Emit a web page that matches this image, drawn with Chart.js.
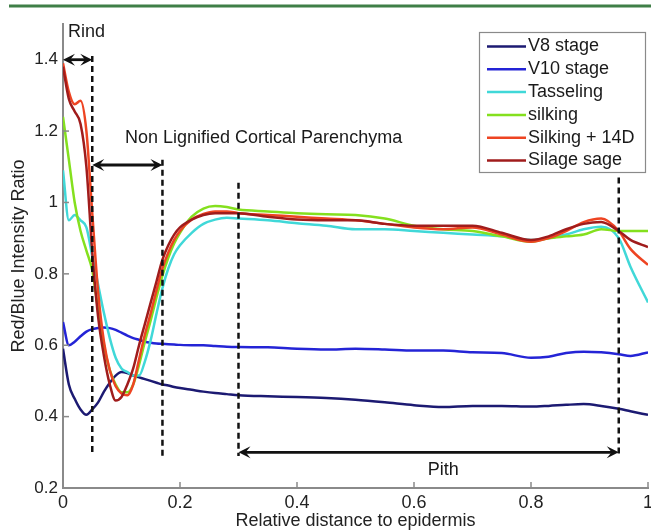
<!DOCTYPE html>
<html><head><meta charset="utf-8">
<script src="https://cdn.jsdelivr.net/npm/chart.js@4/dist/chart.umd.min.js"></script>
<style>html,body{margin:0;padding:0;background:#fff;overflow:hidden}canvas{display:block}</style>
</head><body>
<canvas id="c" width="651" height="532"></canvas>
<script>
// ---- data ----
const xPositions = [0,0.01,0.02,0.03,0.04,0.05,0.06,0.07,0.08,0.09,0.10,0.11,0.12,0.13,0.14,0.15,0.16,0.17,0.18,0.19,0.20,0.22,0.24,0.26,0.28,0.30,0.35,0.40,0.45,0.50,0.55,0.60,0.65,0.70,0.75,0.80,0.83,0.86,0.89,0.92,0.95,0.97,1.00];
const v8Stage = [0.59,0.49,0.45,0.42,0.405,0.42,0.44,0.47,0.495,0.515,0.525,0.522,0.515,0.51,0.505,0.50,0.495,0.49,0.487,0.483,0.48,0.475,0.47,0.466,0.463,0.46,0.457,0.455,0.452,0.447,0.44,0.432,0.427,0.43,0.43,0.428,0.43,0.433,0.435,0.43,0.422,0.415,0.405];
const v10Stage = [0.665,0.60,0.61,0.625,0.638,0.645,0.648,0.65,0.648,0.643,0.635,0.627,0.62,0.615,0.61,0.607,0.605,0.604,0.603,0.602,0.601,0.60,0.60,0.598,0.596,0.595,0.594,0.59,0.588,0.59,0.588,0.585,0.585,0.58,0.578,0.565,0.568,0.578,0.582,0.58,0.575,0.57,0.58];
const tasseling = [1.09,0.95,0.965,0.95,0.93,0.85,0.77,0.69,0.62,0.565,0.535,0.525,0.515,0.515,0.555,0.615,0.69,0.76,0.815,0.855,0.88,0.915,0.94,0.952,0.957,0.955,0.95,0.942,0.935,0.925,0.925,0.92,0.915,0.91,0.905,0.895,0.90,0.91,0.925,0.932,0.90,0.82,0.72];
const silking = [1.24,1.12,1.0,0.92,0.865,0.81,0.70,0.60,0.53,0.49,0.468,0.468,0.49,0.545,0.61,0.67,0.735,0.795,0.845,0.885,0.915,0.96,0.983,0.99,0.987,0.98,0.975,0.97,0.967,0.965,0.955,0.935,0.925,0.92,0.905,0.89,0.90,0.905,0.91,0.925,0.92,0.92,0.92];
const silking14D = [1.39,1.31,1.275,1.285,1.20,0.97,0.75,0.61,0.53,0.485,0.465,0.46,0.49,0.56,0.63,0.69,0.755,0.815,0.86,0.895,0.92,0.952,0.968,0.975,0.975,0.97,0.965,0.96,0.955,0.95,0.94,0.93,0.925,0.93,0.91,0.89,0.90,0.92,0.945,0.955,0.92,0.87,0.825];
const silageStage = [1.38,1.29,1.255,1.22,1.10,0.86,0.68,0.57,0.49,0.445,0.455,0.49,0.535,0.60,0.66,0.72,0.78,0.84,0.88,0.91,0.93,0.952,0.965,0.97,0.97,0.97,0.96,0.952,0.95,0.95,0.94,0.935,0.935,0.935,0.915,0.895,0.905,0.925,0.94,0.945,0.92,0.895,0.875];
const seriesLabels = ['V8 stage','V10 stage','Tasseling','silking','Silking + 14D','Silage sage'];
const seriesValues = [v8Stage, v10Stage, tasseling, silking, silking14D, silageStage];
const seriesColors = ['#1c1a72','#2424d6','#40d8d8','#84e01e','#ee4422','#a01c1c'];
const xTickValues = [0,0.2,0.4,0.6,0.8,1];
const yTickValues = [0.2,0.4,0.6,0.8,1,1.2,1.4];
// region annotations, in data units
const boundaryX = [0.05, 0.17, 0.30, 0.95];
const boundaryTop = [1.41, 1.12, 1.055, 1.07];
const boundaryBottom = 0.29;
const arrowFrom = [0, 0.05, 0.30];
const arrowTo = [0.05, 0.17, 0.95];
const arrowY = [1.40, 1.105, 0.30];
const regionText = ['Rind', 'Non Lignified Cortical Parenchyma', 'Pith'];
const regionTextX = [0.0085, 0.106, 0.65];
const regionTextY = [1.477, 1.18, 0.25];
const regionTextAlign = ['left', 'left', 'center'];

const FONT = '"Liberation Sans", Arial, Helvetica, sans-serif';

function arrowHead(ctx, tipX, tipY, dir) {
  const L = 12, W = 6;
  ctx.beginPath();
  ctx.moveTo(tipX, tipY);
  ctx.lineTo(tipX - dir * L, tipY - W);
  ctx.lineTo(tipX - dir * L * 0.6, tipY);
  ctx.lineTo(tipX - dir * L, tipY + W);
  ctx.closePath();
  ctx.fill();
}

const annotate = {
  id: 'annotate',
  beforeDraw(chart) {
    const c = chart.ctx; c.save(); c.fillStyle = '#fff'; c.fillRect(0, 0, chart.width, chart.height); c.restore();
  },
  afterDatasetsDraw(chart) {
    const { ctx, scales: { x, y }, chartArea: a } = chart;
    ctx.save();
    // inward tick marks
    ctx.strokeStyle = '#8a8a8a'; ctx.lineWidth = 1.5;
    x.ticks.forEach(t => { const px = x.getPixelForValue(t.value); ctx.beginPath(); ctx.moveTo(px, a.bottom); ctx.lineTo(px, a.bottom - 6); ctx.stroke(); });
    y.ticks.forEach(t => { const py = y.getPixelForValue(t.value); ctx.beginPath(); ctx.moveTo(a.left, py); ctx.lineTo(a.left + 6, py); ctx.stroke(); });
    // dashed boundaries
    ctx.strokeStyle = '#111'; ctx.lineWidth = 2.5; ctx.setLineDash([6, 4]);
    boundaryX.forEach((bx, i) => {
      const px = x.getPixelForValue(bx);
      ctx.beginPath(); ctx.moveTo(px, y.getPixelForValue(boundaryTop[i])); ctx.lineTo(px, y.getPixelForValue(boundaryBottom)); ctx.stroke();
    });
    ctx.setLineDash([]);
    // double arrows
    ctx.fillStyle = '#111'; ctx.lineWidth = 2.8;
    arrowFrom.forEach((fx, i) => {
      const x1 = x.getPixelForValue(fx), x2 = x.getPixelForValue(arrowTo[i]), py = y.getPixelForValue(arrowY[i]);
      ctx.beginPath(); ctx.moveTo(x1 + 4, py); ctx.lineTo(x2 - 4, py); ctx.stroke();
      arrowHead(ctx, x1, py, -1); arrowHead(ctx, x2, py, 1);
    });
    // region labels
    ctx.font = '18px ' + FONT; ctx.textBaseline = 'middle'; ctx.fillStyle = '#1a1a1a';
    regionText.forEach((t, i) => {
      ctx.textAlign = regionTextAlign[i];
      ctx.fillText(t, x.getPixelForValue(regionTextX[i]), y.getPixelForValue(regionTextY[i]));
    });
    // legend box
    const bx = 479, by = 32, bw = 166, bh = 140, rowH = 22.8;
    ctx.fillStyle = '#fff'; ctx.fillRect(bx, by, bw, bh);
    ctx.strokeStyle = '#8a8a8a'; ctx.lineWidth = 1.2; ctx.strokeRect(bx + 0.5, by + 0.5, bw, bh);
    ctx.textAlign = 'left'; ctx.font = '18px ' + FONT;
    chart.data.datasets.forEach((ds, i) => {
      const ry = by + 14.5 + rowH * i;
      ctx.strokeStyle = ds.borderColor; ctx.lineWidth = 2.5;
      ctx.beginPath(); ctx.moveTo(bx + 8, ry); ctx.lineTo(bx + 47, ry); ctx.stroke();
      ctx.fillStyle = '#1a1a1a'; ctx.fillText(ds.label, bx + 49, ry);
    });
    // page rule at the top
    ctx.strokeStyle = '#3f7f47'; ctx.lineWidth = 3;
    ctx.beginPath(); ctx.moveTo(9, 6); ctx.lineTo(651, 6); ctx.stroke();
    ctx.restore();
  }
};

const datasets = seriesValues.map((vals, i) => ({
  label: seriesLabels[i],
  data: xPositions.map((xv, j) => ({ x: xv, y: vals[j] })),
  borderColor: seriesColors[i],
  backgroundColor: seriesColors[i],
  borderWidth: 2.5,
  pointRadius: 0,
  fill: false,
  cubicInterpolationMode: 'monotone',
  order: seriesValues.length - i
}));

new Chart(document.getElementById('c'), {
  type: 'line',
  data: { datasets },
  options: {
    responsive: false, animation: false, devicePixelRatio: 1,
    layout: { padding: { top: 24, right: 3, left: 0, bottom: 0 } },
    plugins: { legend: { display: false }, tooltip: { enabled: false } },
    scales: {
      x: {
        type: 'linear', min: 0, max: 1,
        afterBuildTicks: s => { s.ticks = xTickValues.map(v => ({ value: v })); },
        afterFit: s => { s.height = 44; s.paddingLeft = 0; s.paddingRight = 0; },
        ticks: { callback: v => String(Number(v.toFixed(1))), font: { size: 18, family: FONT }, color: '#222', padding: 4, maxRotation: 0, autoSkip: false },
        grid: { display: false, drawTicks: false },
        border: { display: true, color: '#8a8a8a', width: 2 },
        title: { display: true, text: 'Relative distance to epidermis', font: { size: 18, family: FONT }, color: '#222', padding: { top: 0, bottom: 0 } }
      },
      y: {
        type: 'linear', min: 0.2, max: 1.5,
        afterBuildTicks: s => { s.ticks = yTickValues.map(v => ({ value: v })); },
        afterFit: s => { s.width = 63; s.paddingTop = 0; s.paddingBottom = 0; },
        ticks: { callback: v => String(Number(v.toFixed(1))), font: { size: 17, family: FONT }, color: '#222', padding: 5, autoSkip: false },
        grid: { display: false, drawTicks: false },
        border: { display: true, color: '#8a8a8a', width: 2 },
        title: { display: true, text: 'Red/Blue Intensity Ratio', font: { size: 18, family: FONT }, color: '#222', padding: { top: 8, bottom: 0 } }
      }
    }
  },
  plugins: [annotate]
});
</script>
</body></html>
